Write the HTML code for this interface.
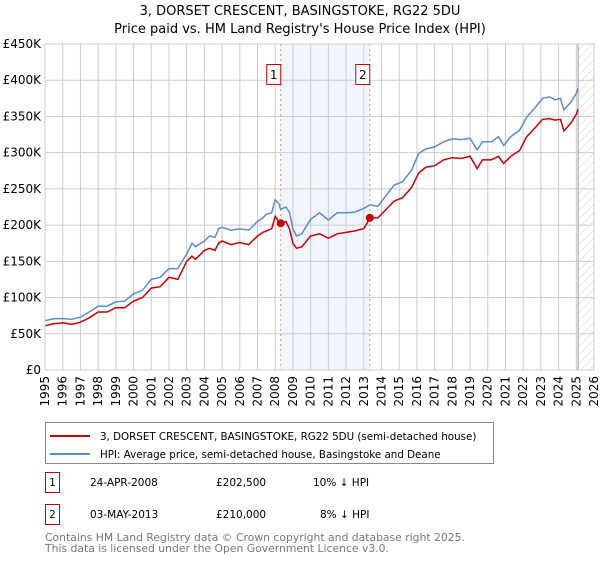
<!DOCTYPE html>
<html><head><meta charset="utf-8"><style>
body{margin:0;background:#fff;font-family:"Liberation Sans","DejaVu Sans",sans-serif;}
svg text{font-family:"DejaVu Sans","Liberation Sans",sans-serif;}
</style></head><body>
<svg id="c" width="600" height="560" viewBox="0 0 600 560" xmlns="http://www.w3.org/2000/svg">
<defs><pattern id="hatch" width="6" height="6" patternUnits="userSpaceOnUse" patternTransform="rotate(45)"><line x1="0" y1="0" x2="0" y2="6" stroke="#ccc" stroke-width="1"/></pattern></defs>
<text x="300" y="15" text-anchor="middle" font-size="13" fill="#000">3, DORSET CRESCENT, BASINGSTOKE, RG22 5DU</text>
<text x="300" y="33" text-anchor="middle" font-size="13" fill="#000">Price paid vs. HM Land Registry's House Price Index (HPI)</text>
<g id="plot"></g>
<g>
<rect x="45.5" y="422.5" width="448" height="41" fill="#fff" stroke="#888"/>
<line x1="50" y1="436" x2="90" y2="436" stroke="#cc0000" stroke-width="2"/>
<text x="100" y="440" font-size="10.3">3, DORSET CRESCENT, BASINGSTOKE, RG22 5DU (semi-detached house)</text>
<line x1="50" y1="454" x2="90" y2="454" stroke="#5b8bd0" stroke-width="2"/>
<text x="100" y="458" font-size="10.3">HPI: Average price, semi-detached house, Basingstoke and Deane</text>
</g>
<g font-size="10.5">
<rect x="45.5" y="472.5" width="14" height="20" fill="#fff" stroke="#cc0000"/>
<text x="52.5" y="486" text-anchor="middle">1</text>
<text x="90" y="486">24-APR-2008</text><text x="216" y="486">£202,500</text><text x="313" y="486">10% ↓ HPI</text>
<rect x="45.5" y="504.5" width="14" height="20" fill="#fff" stroke="#cc0000"/>
<text x="52.5" y="518" text-anchor="middle">2</text>
<text x="90" y="518">03-MAY-2013</text><text x="216" y="518">£210,000</text><text x="320" y="518">8% ↓ HPI</text>
</g>
<text x="45" y="541" font-size="10.8" fill="#777">Contains HM Land Registry data © Crown copyright and database right 2025.</text>
<text x="45" y="552" font-size="10.8" fill="#777">This data is licensed under the Open Government Licence v3.0.</text>
</svg>
<script>
const hpiYears=[1995,1995.5,1996,1996.5,1997,1997.5,1998,1998.5,1999,1999.5,2000,2000.5,2001,2001.5,2002,2002.5,2003,2003.3,2003.5,2004,2004.3,2004.6,2004.8,2005,2005.5,2006,2006.5,2007,2007.3,2007.5,2007.8,2008,2008.2,2008.3,2008.6,2008.8,2009,2009.2,2009.5,2010,2010.5,2011,2011.5,2012,2012.5,2013,2013.35,2013.8,2014.2,2014.7,2015.2,2015.7,2016.1,2016.5,2017,2017.5,2018,2018.5,2019,2019.4,2019.7,2020.2,2020.6,2020.9,2021.3,2021.8,2022.2,2022.7,2023.1,2023.5,2023.8,2024.1,2024.3,2024.7,2025.0,2025.1];
const hpiValues=[68,71,71,70,73,80,88,88,94,95,105,110,125,128,140,140,160,175,170,178,185,183,195,197,193,195,193,205,210,215,217,235,230,222,225,218,195,185,188,208,217,207,217,217,218,223,228,226,239,255,260,276,299,305,308,315,319,318,320,304,315,315,322,310,322,331,349,363,375,377,373,375,359,370,382,389];
const ppValues=[61,64,65,63,66,72,80,80,86,86,95,100,113,115,128,125,150,157,153,165,168,165,175,178,173,176,173,185,190,192,195,212,205,202,205,195,175,168,170,185,188,182,188,190,192,195,210,210,220,233,238,252,272,280,282,290,293,292,295,278,290,290,295,285,295,303,322,335,346,347,345,346,330,341,353,360];
const sales=[{t:2008.31,v:202.5,label:"1"},{t:2013.34,v:210,label:"2"}];
const yTicks=[0,50,100,150,200,250,300,350,400,450];
const yTickLabels=["£0","£50K","£100K","£150K","£200K","£250K","£300K","£350K","£400K","£450K"];
const xTicks=[1995,1996,1997,1998,1999,2000,2001,2002,2003,2004,2005,2006,2007,2008,2009,2010,2011,2012,2013,2014,2015,2016,2017,2018,2019,2020,2021,2022,2023,2024,2025,2026];
const L=45,R=594,T=44,B=370;
const x=t=>L+(t-1995)/(2026-1995)*(R-L);
const y=v=>B-v/450*(B-T);
const NS="http://www.w3.org/2000/svg";
const g=document.getElementById('plot');
function mk(tag,attrs){const e=document.createElementNS(NS,tag);for(const k in attrs)e.setAttribute(k,attrs[k]);g.appendChild(e);return e;}
let e;
e=mk('rect',{x:x(sales[0].t),y:T,width:x(sales[1].t)-x(sales[0].t),height:B-T,fill:'#eef3fc',opacity:0.8});


e=mk('rect',{x:x(2025.1),y:T,width:R-x(2025.1),height:B-T,fill:'url(#hatch)'});


yTicks.forEach((v,i)=>{
 e=mk('line',{x1:L,x2:R,y1:y(v),y2:y(v),stroke:'#ccc','stroke-width':1});
 
 
 e=mk('text',{x:L-4,y:y(v)+4,'text-anchor':'end','font-size':12});
 e.textContent=yTickLabels[i];
 
 
});
xTicks.forEach(t=>{
 e=mk('line',{x1:x(t),x2:x(t),y1:T,y2:B,stroke:'#ccc','stroke-width':1});
 
 
 e=mk('text',{x:x(t)+4,y:B+6,'text-anchor':'end','font-size':12,transform:`rotate(-90 ${x(t)+4} ${B+6})`});
 e.textContent=t;
 
 
});
e=mk('line',{x1:x(2025.1),x2:x(2025.1),y1:T,y2:B,stroke:'#999','stroke-width':1});


sales.forEach(s=>{
 e=mk('line',{x1:x(s.t),x2:x(s.t),y1:T,y2:B,stroke:'#f08080','stroke-width':1,'stroke-dasharray':'2,3'});
 
 
});
const pts=a=>hpiYears.map((t,i)=>x(t).toFixed(1)+','+y(a[i]).toFixed(1)).join(' ');
e=mk('polyline',{points:pts(hpiValues),fill:'none',stroke:'#5b8bd0','stroke-width':1.5});


e=mk('polyline',{points:pts(ppValues),fill:'none',stroke:'#cc0000','stroke-width':1.5});


sales.forEach(s=>{
 e=mk('circle',{cx:x(s.t),cy:y(s.v),r:4,fill:'#cc0000'});
 
 
 e=mk('rect',{x:x(s.t)-14,y:64.5,width:14,height:20,fill:'#fff',stroke:'#cc0000'});
 
 
 e=mk('text',{x:x(s.t)-7,y:79,'text-anchor':'middle','font-size':12});
 e.textContent=s.label;
 
 
});
e=mk('rect',{x:L,y:T,width:R-L,height:B-T,fill:'none',stroke:'#ccc'});


</script>
</body></html>
